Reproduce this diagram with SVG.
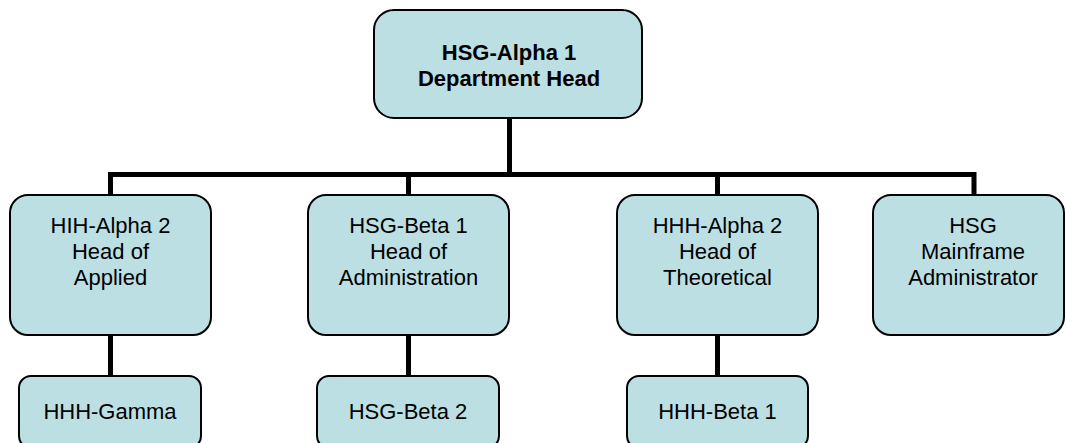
<svg xmlns="http://www.w3.org/2000/svg" width="1066" height="443" viewBox="0 0 1066 443">
<style>
.box{fill:#BBDFE2;stroke:#000;stroke-width:2}
.t{font-family:"Liberation Sans",Arial,sans-serif;font-size:22px;fill:#000;text-anchor:middle}
.b{font-weight:bold}
.c{fill:none;stroke:#000;stroke-width:5;stroke-linejoin:miter}
</style>
<rect width="1066" height="443" fill="#fff"/>
<g id="connectors">
<path class="c" d="M110.5 195V174.5H974V195"/>
<path class="c" d="M509.5 118V174.5M408.5 174.5V195M717.5 174.5V195"/>
<path class="c" d="M110.5 335V376M408.5 335V376M717.5 335V376"/>
</g>
<g id="n0">
<rect class="box" x="374" y="10" width="268" height="108" rx="20"/>
<text class="t b" x="509" y="60">HSG-Alpha 1</text>
<text class="t b" x="509" y="86">Department Head</text>
</g>
<g id="n1">
<rect class="box" x="10" y="195" width="201" height="140" rx="18"/>
<text class="t" x="110.5" y="233">HIH-Alpha 2</text>
<text class="t" x="110.5" y="259">Head of</text>
<text class="t" x="110.5" y="285">Applied</text>
</g>
<g id="n2">
<rect class="box" x="308" y="195" width="201" height="140" rx="18"/>
<text class="t" x="408.5" y="233">HSG-Beta 1</text>
<text class="t" x="408.5" y="259">Head of</text>
<text class="t" x="408.5" y="285">Administration</text>
</g>
<g id="n3">
<rect class="box" x="617" y="195" width="201" height="140" rx="18"/>
<text class="t" x="717.5" y="233">HHH-Alpha 2</text>
<text class="t" x="717.5" y="259">Head of</text>
<text class="t" x="717.5" y="285">Theoretical</text>
</g>
<g id="n4">
<rect class="box" x="873" y="195" width="191" height="140" rx="18"/>
<text class="t" x="973" y="233">HSG</text>
<text class="t" x="973" y="259">Mainframe</text>
<text class="t" x="973" y="285">Administrator</text>
</g>
<g id="n5">
<rect class="box" x="19" y="376" width="182" height="72" rx="12"/>
<text class="t" x="110" y="419">HHH-Gamma</text>
</g>
<g id="n6">
<rect class="box" x="317" y="376" width="182" height="72" rx="12"/>
<text class="t" x="408" y="419">HSG-Beta 2</text>
</g>
<g id="n7">
<rect class="box" x="627" y="376" width="181" height="72" rx="12"/>
<text class="t" x="717.5" y="419">HHH-Beta 1</text>
</g>
</svg>
